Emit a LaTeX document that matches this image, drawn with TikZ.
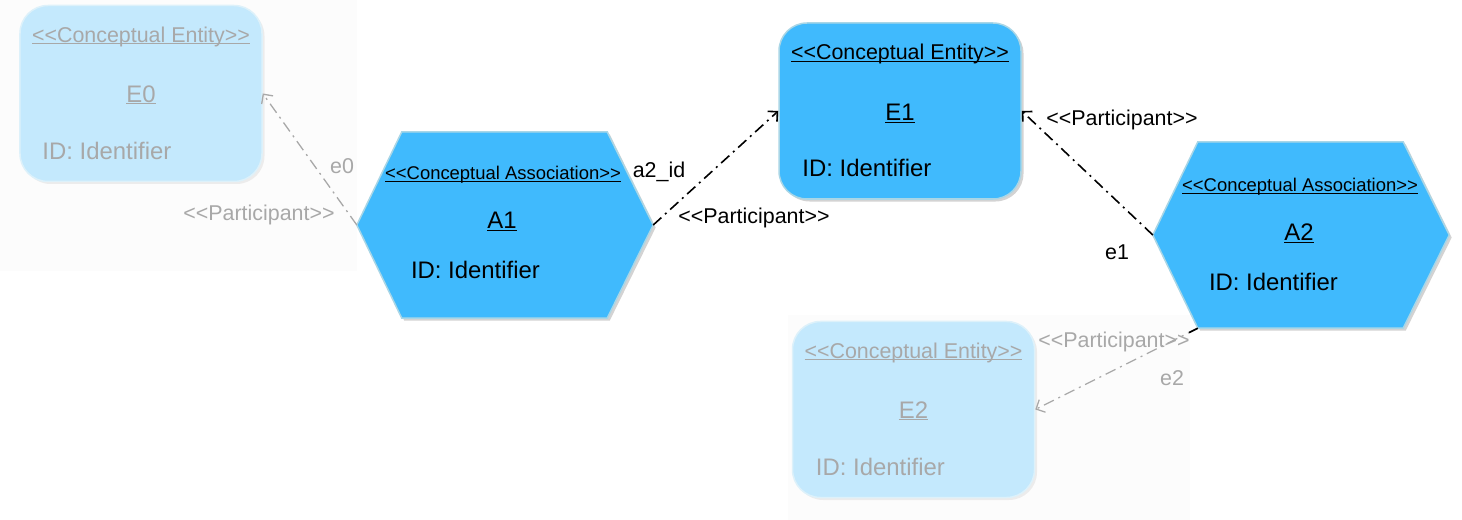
\documentclass[tikz,border=0pt]{standalone}
\usepackage{fontspec}
\setmainfont{Liberation Sans}
\usetikzlibrary{positioning,shadows,arrows.meta}

\definecolor{entblue}{HTML}{40BAFD}
\definecolor{entedge}{HTML}{A9D6E6}
\definecolor{fadeblue}{HTML}{C4E9FD}
\definecolor{fadeedge}{HTML}{DDF1FA}
\definecolor{fadetext}{HTML}{A8A8A8}
\definecolor{fadeback}{HTML}{FCFCFC}

\newcommand{\guil}[1]{<\kern0pt<#1>\kern0pt>}
\newcommand{\stline}[1]{\setbox0\hbox{#1}\rlap{\rule[-2bp]{\wd0}{1bp}}\box0}
\newcommand{\stereo}[1]{\stline{\guil{#1}}}

\begin{document}
\begin{tikzpicture}[x=1bp, y=-1bp,
    entity/.style={rectangle, rounded corners=28bp, minimum width=242bp, minimum height=176bp, line width=1.5bp, inner sep=0pt},
    bright/.style={draw=entedge, fill=entblue, drop shadow={shadow xshift=2.5bp, shadow yshift=-2.5bp, opacity=.35}},
    faint/.style={draw=fadeedge, fill=fadeblue, drop shadow={shadow xshift=2.5bp, shadow yshift=-2.5bp, opacity=.12}},
    hexbox/.style={rectangle, minimum width=296bp, minimum height=186bp, inner sep=0pt},
    hexagon/.style={bright, line width=1.5bp},
    stereotext/.style={inner sep=0pt, anchor=base, font=\fontsize{21.5}{26}\selectfont},
    assoctext/.style={inner sep=0pt, anchor=base, font=\fontsize{18.5}{22}\selectfont},
    nametext/.style={inner sep=0pt, anchor=base, font=\fontsize{24}{28}\selectfont},
    idtext/.style={inner sep=0pt, anchor=base west, font=\fontsize{24}{28}\selectfont},
    edgetext/.style={inner sep=0pt, font=\fontsize{21.5}{26}\selectfont},
    fade/.style={text=fadetext},
    link/.style={line width=1.6bp, dash pattern=on 11bp off 5bp on 2bp off 5bp, -{Straight Barb[length=7bp,width=14bp]}},
    fadelink/.style={link, draw=fadetext, line width=1.3bp}]
   \useasboundingbox (0,0) rectangle (1462,520);
   \fill[fadeback] (0,0) rectangle (357,271);
   \fill[fadeback] (788,315) rectangle (1190,520);

   % entities
   \node[entity, faint]  (E0) at (141,93.5)  {};
   \node[entity, bright] (E1) at (900,111)   {};
   \node[entity, faint]  (E2) at (913.5,409.5) {};

   \node[stereotext, fade] (E0st) at ([yshift=51bp]E0.center) {\stereo{Conceptual Entity}};
   \node[nametext, fade]   (E0nm) at ([yshift=-9bp]E0.center) {\stline{E0}};
   \node[idtext, fade]     (E0id) at ([xshift=23bp,yshift=-66bp]E0.west) {ID: Identifier};

   \node[stereotext] (E1st) at ([yshift=51bp]E1.center) {\stereo{Conceptual Entity}};
   \node[nametext]   (E1nm) at ([yshift=-10bp]E1.center) {\stline{E1}};
   \node[idtext]     (E1id) at ([xshift=24bp,yshift=-66bp]E1.west) {ID: Identifier};

   \node[stereotext, fade] (E2st) at ([yshift=51.5bp]E2.center) {\stereo{Conceptual Entity}};
   \node[nametext, fade]   (E2nm) at ([yshift=-8.5bp]E2.center) {\stline{E2}};
   \node[idtext, fade]     (E2id) at ([xshift=24bp,yshift=-65.5bp]E2.west) {ID: Identifier};

   % associations
   \node[hexbox] (A1) at (505,225) {};
   \node[hexbox] (A2) at (1301,235) {};
   \filldraw[hexagon] (A1.west) -- ([xshift=45bp]A1.north west) -- ([xshift=-46bp]A1.north east) -- (A1.east)
      -- ([xshift=-46bp]A1.south east) -- ([xshift=45bp]A1.south west) -- cycle;
   \filldraw[hexagon] (A2.west) -- ([xshift=45bp]A2.north west) -- ([xshift=-46bp]A2.north east) -- (A2.east)
      -- ([xshift=-46bp]A2.south east) -- ([xshift=45bp]A2.south west) -- cycle;

   \node[assoctext] (A1st) at ([xshift=-2bp,yshift=45bp]A1.center) {\stereo{Conceptual Association}};
   \node[nametext]  (A1nm) at ([xshift=-3bp,yshift=-4bp]A1.center) {\stline{A1}};
   \node[idtext]    (A1id) at ([xshift=54bp,yshift=-53bp]A1.west) {ID: Identifier};

   \node[assoctext] (A2st) at ([xshift=-1bp,yshift=43bp]A2.center) {\stereo{Conceptual Association}};
   \node[nametext]  (A2nm) at ([xshift=-2bp,yshift=-6bp]A2.center) {\stline{A2}};
   \node[idtext]    (A2id) at ([xshift=56bp,yshift=-55bp]A2.west) {ID: Identifier};

   % participants
   \draw[fadelink] (A1.west) to (E0.east);
   \draw[link] (A1.east) to (E1.west);
   \draw[link] (A2.west) to (E1.east);
   \draw[fadelink] ([xshift=45bp]A2.south west) to (E2.east);
   \draw[line width=1.6bp, shorten >=172bp] ([xshift=45bp]A2.south west) to (E2.east);

   \node[edgetext, fade] (e0lab) at (342,166)  {e0};
   \node[edgetext, fade] (p0lab) at (259,215)  {\guil{Participant}};
   \node[edgetext]       (a2lab) at (659,172)  {a2\_id};
   \node[edgetext]       (p1lab) at (754,218)  {\guil{Participant}};
   \node[edgetext]       (p2lab) at (1122,120) {\guil{Participant}};
   \node[edgetext]       (e1lab) at (1117,252) {e1};
   \node[edgetext, fade] (p3lab) at (1114,342) {\guil{Participant}};
   \node[edgetext, fade] (e2lab) at (1172,378) {e2};
 \end{tikzpicture}
\end{document}
